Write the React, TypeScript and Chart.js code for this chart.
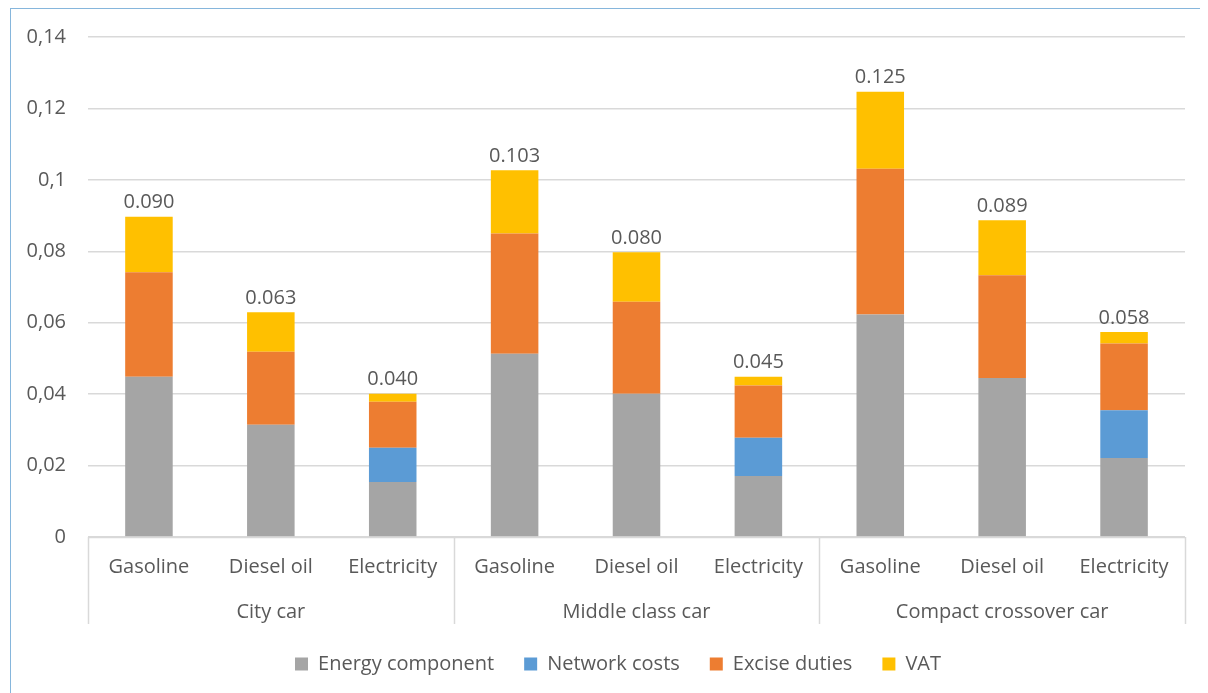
import React, { useEffect, useRef } from "react";
import { Chart, registerables } from "chart.js";

Chart.register(...registerables);

const categories = [
  "Gasoline", "Diesel oil", "Electricity",
  "Gasoline", "Diesel oil", "Electricity",
  "Gasoline", "Diesel oil", "Electricity",
];
const groups = ["City car", "Middle class car", "Compact crossover car"];

const energyComponent = [0.0449, 0.0314, 0.0154, 0.0513, 0.0401, 0.0171, 0.0623, 0.0445, 0.0221];
const networkCosts = [0, 0, 0.0096, 0, 0, 0.0107, 0, 0, 0.0134];
const exciseDuties = [0.0292, 0.0205, 0.0129, 0.0337, 0.0258, 0.0146, 0.0408, 0.0288, 0.0187];
const vat = [0.0156, 0.0110, 0.0022, 0.0177, 0.0138, 0.0025, 0.0216, 0.0154, 0.0032];
const totalLabels = ["0.090", "0.063", "0.040", "0.103", "0.080", "0.045", "0.125", "0.089", "0.058"];

const yTickLabels = ["0", "0,02", "0,04", "0,06", "0,08", "0,1", "0,12", "0,14"];

const FONT = "'Open Sans', 'Noto Sans', sans-serif";
const TEXT = "#595959";
const GRID = "#d9d9d9";

const decorPlugin = {
  id: "decor",
  afterLayout(chart: any) {
    if (chart.legend) {
      chart.legend.left += 20;
      chart.legend.right += 20;
    }
  },
  afterDatasetsDraw(chart: any) {
    const { ctx, chartArea, scales } = chart;
    const x = scales.x;
    const y = scales.y;
    const x2 = scales.x2;
    ctx.save();
    ctx.font = `20px ${FONT}`;
    ctx.fillStyle = TEXT;
    ctx.textAlign = "center";
    ctx.textBaseline = "bottom";
    for (let i = 0; i < categories.length; i++) {
      let sum = 0;
      chart.data.datasets.forEach((ds: any) => (sum += ds.data[i] || 0));
      const px = x.getPixelForValue(i);
      const py = y.getPixelForValue(sum);
      ctx.fillText(totalLabels[i], px, py - 4);
    }
    ctx.strokeStyle = GRID;
    ctx.lineWidth = 1.5;
    ctx.beginPath();
    ctx.moveTo(chartArea.left, chartArea.bottom + 0.5);
    ctx.lineTo(chartArea.right, chartArea.bottom + 0.5);
    const w = (chartArea.right - chartArea.left) / categories.length;
    const perGroup = categories.length / groups.length;
    for (let g = 0; g <= groups.length; g++) {
      const bx = Math.round(chartArea.left + g * perGroup * w) + 0.5;
      ctx.moveTo(bx, chartArea.bottom);
      ctx.lineTo(bx, x2.bottom);
    }
    ctx.stroke();
    ctx.restore();
  },
};

export default function App() {
  const ref = useRef<HTMLCanvasElement | null>(null);
  useEffect(() => {
    document.documentElement.style.overflow = "hidden";
    document.body.style.overflow = "hidden";
    const chart = new Chart(ref.current as HTMLCanvasElement, {
      type: "bar",
      data: {
        labels: categories,
        datasets: [
          { label: "Energy component", data: energyComponent, backgroundColor: "#A5A5A5" },
          { label: "Network costs", data: networkCosts, backgroundColor: "#5B9BD5" },
          { label: "Excise duties", data: exciseDuties, backgroundColor: "#ED7D31" },
          { label: "VAT", data: vat, backgroundColor: "#FFC000" },
        ],
      },
      options: {
        responsive: false,
        animation: false,
        datasets: { bar: { barPercentage: 0.39, categoryPercentage: 1 } },
        layout: { padding: { left: 0, right: 23, top: 28, bottom: 9 } },
        plugins: {
          legend: {
            position: "bottom",
            labels: {
              font: { family: FONT, size: 20 },
              color: TEXT,
              boxWidth: 13,
              boxHeight: 13,
              padding: 30,
            },
          },
          tooltip: { enabled: false },
        },
        scales: {
          x: {
            stacked: true,
            grid: { display: false, drawTicks: false },
            border: { display: false },
            ticks: { font: { family: FONT, size: 20 }, color: TEXT, padding: 18, maxRotation: 0 },
            afterFit: (s: any) => { s.height = 46; },
          },
          x2: {
            type: "category",
            labels: groups,
            position: "bottom",
            weight: 1,
            offset: true,
            grid: { display: false, drawTicks: false },
            border: { display: false },
            ticks: { font: { family: FONT, size: 20 }, color: TEXT, padding: 17, maxRotation: 0 },
            afterFit: (s: any) => { s.height = 41; },
          },
          y: {
            stacked: true,
            min: 0,
            max: 0.14,
            ticks: {
              stepSize: 0.02,
              font: { family: FONT, size: 20 },
              color: TEXT,
              padding: 22,
              callback: (_v: any, i: number) => yTickLabels[i],
            },
            grid: { color: GRID, lineWidth: 1.5, drawTicks: false },
            border: { display: false },
            afterFit: (s: any) => { s.width = 77; s.paddingTop = 0; s.paddingBottom = 0; },
          },
        },
      },
      plugins: [decorPlugin],
    });
    return () => chart.destroy();
  }, []);
  return (
    <div style={{ marginLeft: 2, width: 1197, height: 684, border: "1px solid #86b6dc", background: "#fff" }}>
      <canvas ref={ref} width={1197} height={684} style={{ display: "block", width: 1197, height: 684 }} />
    </div>
  );
}
